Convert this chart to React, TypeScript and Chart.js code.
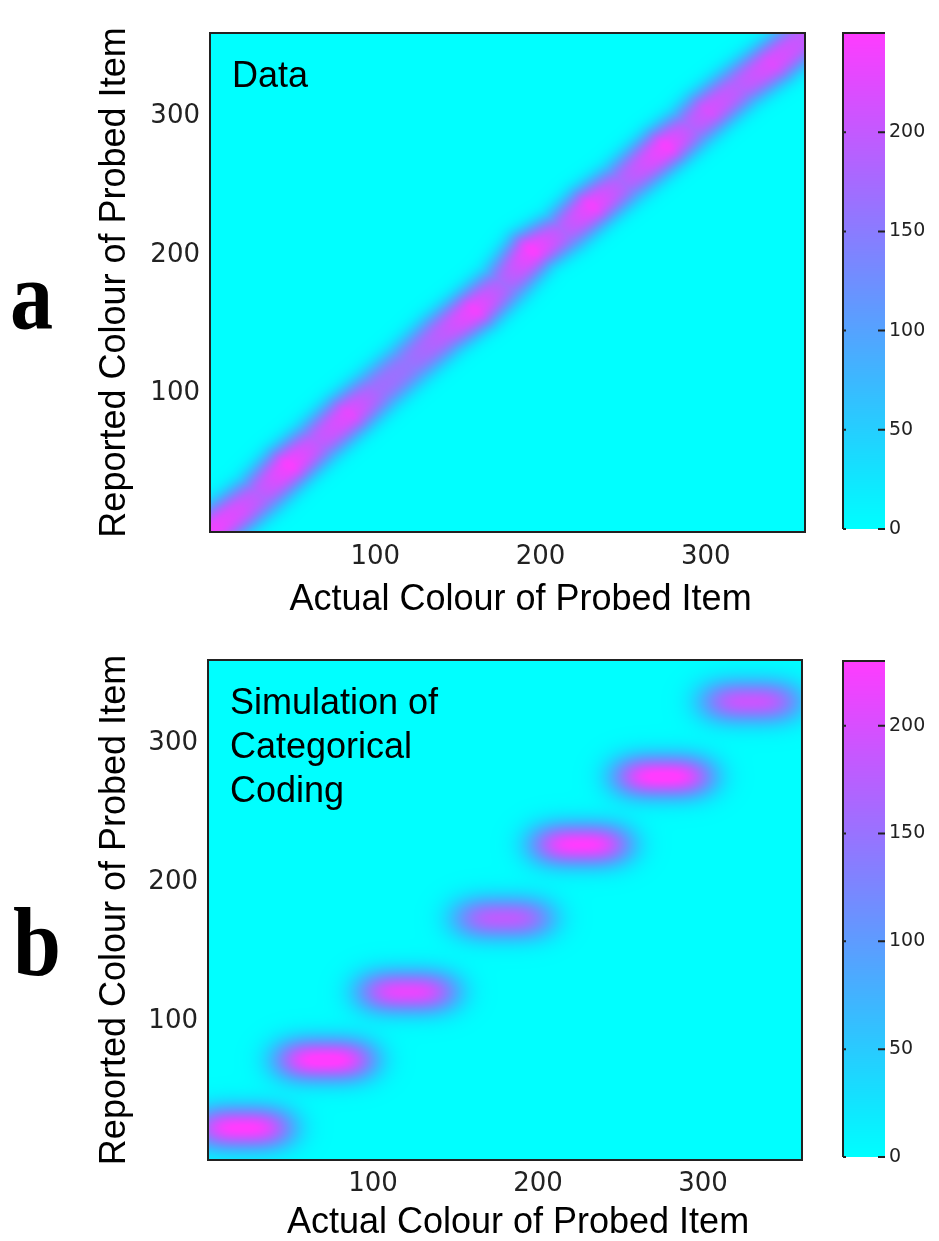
import React, { useEffect, useRef } from 'react';
import { Chart, registerables } from 'chart.js';

Chart.register(...registerables);

// ---------- data ----------
const axisMin = 0;
const axisMax = 360;
const axisTickValues = [100, 200, 300];
const colorbarTickValues = [0, 50, 100, 150, 200];

// Panel a: ridge of the "Data" heat map (actual, reported, count)
const ridgeActual = [2, 18, 30, 48, 65, 84, 102, 120, 141, 160, 178, 195, 214, 231, 250, 276, 291, 302, 320, 340, 358];
const ridgeReported = [2, 16, 27, 48, 65, 85, 103, 121, 143, 160, 179, 203, 217, 235, 252, 278, 292, 304, 321, 338, 355];
const ridgeCount = [235, 215, 190, 245, 195, 228, 170, 160, 195, 238, 175, 245, 185, 238, 180, 242, 185, 215, 190, 222, 200];
const dataColorMax = 250;

// Panel b: category blobs of the simulation (actual, reported, count)
const blobActual = [21, 71, 121, 179, 226, 276, 329];
const blobReported = [23, 72, 121, 174, 227, 276, 330];
const blobCount = [232, 238, 212, 178, 230, 236, 188];
const simColorMax = 230;

const xTitle = 'Actual Colour of Probed Item';
const yTitle = 'Reported Colour of Probed Item';
const panelALabel = ['Data'];
const panelBLabel = ['Simulation of', 'Categorical', 'Coding'];

// ---------- styles ----------
const SANS = "'Liberation Sans', Arial, sans-serif";
const TICKFONT = "'DejaVu Sans', sans-serif";
const RIDGE_S = 15;
const RIDGE_P = 2.5;
const BLOB_SX = 30;
const BLOB_SY = 15;

function cmap(t: number): [number, number, number] {
  const c = Math.max(0, Math.min(1, t));
  const r = 255 * Math.pow(c, 1.2);
  const g = 255 - 255 * c + 60 * c * c;
  return [Math.round(r), Math.round(g), 255];
}

type Pt = { x: number; y: number; count: number };

function ridgeValue(u: number, v: number, pts: Pt[]) {
  let best = 0;
  const n = pts.length;
  for (let k = 0; k < n - 1; k++) {
    const a = pts[k], b = pts[k + 1];
    const dx = b.x - a.x, dy = b.y - a.y;
    const L2 = dx * dx + dy * dy;
    let t = ((u - a.x) * dx + (v - a.y) * dy) / L2;
    if (k > 0 && t < 0) t = 0;
    if (k < n - 2 && t > 1) t = 1;
    const px = a.x + t * dx, py = a.y + t * dy;
    const d = Math.sqrt((u - px) * (u - px) + (v - py) * (v - py));
    const tc = Math.max(0, Math.min(1, t));
    const peak = a.count + tc * (b.count - a.count);
    const val = peak * Math.exp(-Math.pow(d / RIDGE_S, RIDGE_P));
    if (val > best) best = val;
  }
  return best;
}

function blobValue(u: number, v: number, pts: Pt[]) {
  let s = 0;
  for (const p of pts) {
    const ax = Math.abs(u - p.x) / BLOB_SX;
    const ay = (v - p.y) / BLOB_SY;
    s += p.count * Math.exp(-ax * ax * ax) * Math.exp(-ay * ay);
  }
  return s;
}

const heatPlugin = {
  id: 'heat',
  beforeDatasetsDraw(chart: any, _a: any, opts: any) {
    const { ctx, chartArea: ca, scales } = chart;
    const xs = scales.x, ys = scales.y;
    const w = Math.round(ca.right - ca.left);
    const h = Math.round(ca.bottom - ca.top);
    const off = document.createElement('canvas');
    off.width = w;
    off.height = h;
    const octx = off.getContext('2d')!;
    const img = octx.createImageData(w, h);
    const pts: Pt[] = chart.data.datasets[0].data;
    const us: number[] = [];
    for (let i = 0; i < w; i++) us.push(xs.getValueForPixel(ca.left + i + 0.5));
    for (let j = 0; j < h; j++) {
      const v = ys.getValueForPixel(ca.top + j + 0.5);
      for (let i = 0; i < w; i++) {
        const val = opts.kind === 'ridge' ? ridgeValue(us[i], v, pts) : blobValue(us[i], v, pts);
        const [r, g, b] = cmap(val / opts.max);
        const o = (j * w + i) * 4;
        img.data[o] = r;
        img.data[o + 1] = g;
        img.data[o + 2] = b;
        img.data[o + 3] = 255;
      }
    }
    octx.putImageData(img, 0, 0);
    ctx.save();
    ctx.drawImage(off, ca.left, ca.top, w, h);
    ctx.restore();
  },
  afterDraw(chart: any, _a: any, opts: any) {
    const { ctx, chartArea: ca } = chart;
    ctx.save();
    ctx.strokeStyle = '#222';
    ctx.lineWidth = 2;
    ctx.strokeRect(ca.left, ca.top, ca.right - ca.left, ca.bottom - ca.top);
    ctx.fillStyle = '#000';
    ctx.font = `36px ${SANS}`;
    ctx.textAlign = 'left';
    ctx.textBaseline = 'alphabetic';
    (opts.lines as string[]).forEach((s, i) => {
      ctx.fillText(s, ca.left + 22, ca.top + 54 + i * 44);
    });
    ctx.textAlign = 'center';
    ctx.fillText(opts.xTitle, (ca.left + ca.right) / 2 + 13, ca.bottom + opts.xTitleBase);
    ctx.restore();
  },
};

const colorbarPlugin = {
  id: 'cbar',
  beforeDatasetsDraw(chart: any, _a: any, opts: any) {
    const { ctx, chartArea: ca, scales } = chart;
    const ys = scales.y;
    ctx.save();
    for (let y = Math.floor(ca.top); y < ca.bottom; y++) {
      const v = ys.getValueForPixel(y + 0.5);
      const [r, g, b] = cmap(v / opts.max);
      ctx.fillStyle = `rgb(${r},${g},${b})`;
      ctx.fillRect(ca.left, y, ca.right - ca.left, 1);
    }
    ctx.strokeStyle = '#222';
    ctx.lineWidth = 2;
    ctx.beginPath();
    ctx.moveTo(ca.left, ca.bottom);
    ctx.lineTo(ca.left, ca.top);
    ctx.lineTo(ca.right, ca.top);
    ctx.stroke();
    ctx.lineWidth = 2;
    for (const t of ys.ticks) {
      const py = ys.getPixelForValue(t.value);
      ctx.beginPath();
      ctx.moveTo(ca.left, py);
      ctx.lineTo(ca.left + 3, py);
      ctx.moveTo(ca.right - 7, py);
      ctx.lineTo(ca.right, py);
      ctx.stroke();
    }
    ctx.restore();
  },
};

function heatConfig(p: {
  points: Pt[];
  kind: string;
  max: number;
  lines: string[];
  pad: { left: number; top: number; right: number; bottom: number };
  xAxisH: number;
  yAxisW: number;
  xTickPad: number;
  yTitlePad: number;
  xTitleBase: number;
}): any {
  return {
    type: 'scatter',
    data: {
      datasets: [
        {
          data: p.points,
          pointRadius: 0,
          showLine: false,
        },
      ],
    },
    plugins: [heatPlugin],
    options: {
      responsive: false,
      animation: false,
      devicePixelRatio: 1,
      events: [],
      layout: { padding: p.pad },
      plugins: {
        legend: { display: false },
        tooltip: { enabled: false },
        heat: { kind: p.kind, max: p.max, lines: p.lines, xTitle, xTitleBase: p.xTitleBase },
      },
      scales: {
        x: {
          type: 'linear',
          min: axisMin,
          max: axisMax,
          afterBuildTicks: (s: any) => {
            s.ticks = axisTickValues.map((v) => ({ value: v }));
          },
          afterFit: (s: any) => {
            s.height = p.xAxisH;
            s.paddingLeft = 0;
            s.paddingRight = 0;
          },
          grid: { display: false, drawTicks: false },
          border: { display: false },
          ticks: { padding: p.xTickPad, maxRotation: 0, color: '#222', font: { family: TICKFONT, size: 26 } },
        },
        y: {
          type: 'linear',
          min: axisMin,
          max: axisMax,
          afterBuildTicks: (s: any) => {
            s.ticks = axisTickValues.map((v) => ({ value: v }));
          },
          afterFit: (s: any) => {
            s.width = p.yAxisW;
            s.paddingTop = 0;
            s.paddingBottom = 0;
          },
          grid: { display: false, drawTicks: false },
          border: { display: false },
          ticks: { padding: 10, color: '#222', font: { family: TICKFONT, size: 26 } },
          title: {
            display: true,
            text: yTitle,
            color: '#000',
            font: { family: SANS, size: 36 },
            padding: { top: p.yTitlePad, bottom: 0 },
          },
        },
      },
    },
  };
}

function colorbarConfig(max: number, pad: any): any {
  return {
    type: 'scatter',
    data: { datasets: [{ data: [], pointRadius: 0 }] },
    plugins: [colorbarPlugin],
    options: {
      responsive: false,
      animation: false,
      devicePixelRatio: 1,
      events: [],
      layout: { padding: pad },
      plugins: { legend: { display: false }, tooltip: { enabled: false }, cbar: { max } },
      scales: {
        x: { display: false, min: 0, max: 1 },
        y: {
          position: 'right',
          min: 0,
          max,
          afterBuildTicks: (s: any) => {
            s.ticks = colorbarTickValues.map((v) => ({ value: v }));
          },
          afterFit: (s: any) => {
            s.width = 54;
            s.paddingTop = 0;
            s.paddingBottom = 0;
          },
          grid: { display: false, drawTicks: false },
          border: { display: false },
          ticks: { padding: 4, color: '#222', font: { family: TICKFONT, size: 19 } },
        },
      },
    },
  };
}

function ChartCanvas(props: { left: number; top: number; width: number; height: number; make: () => any }) {
  const ref = useRef<HTMLCanvasElement>(null);
  useEffect(() => {
    const chart = new Chart(ref.current as HTMLCanvasElement, props.make());
    return () => chart.destroy();
  }, []);
  return (
    <canvas
      ref={ref}
      width={props.width}
      height={props.height}
      style={{ position: 'absolute', left: props.left, top: props.top, width: props.width, height: props.height }}
    />
  );
}

const ridgePoints: Pt[] = ridgeActual.map((x, i) => ({ x, y: ridgeReported[i], count: ridgeCount[i] }));
const blobPoints: Pt[] = blobActual.map((x, i) => ({ x, y: blobReported[i], count: blobCount[i] }));

const letterStyle: React.CSSProperties = {
  position: 'absolute',
  fontFamily: "'Liberation Serif', 'Times New Roman', serif",
  fontWeight: 'bold',
  fontSize: 98,
  lineHeight: '98px',
  transform: 'scaleX(0.88)',
  transformOrigin: 'left top',
  color: '#000',
};

export default function App() {
  return (
    <div style={{ position: 'absolute', left: 0, top: 0, width: 939, height: 1241, background: '#fff', overflow: 'hidden' }}>
      <div style={{ ...letterStyle, left: 10, top: 246 }}>a</div>
      <div style={{ ...letterStyle, left: 13, top: 893 }}>b</div>
      <ChartCanvas
        left={80}
        top={20}
        width={740}
        height={610}
        make={() =>
          heatConfig({
            points: ridgePoints,
            kind: 'ridge',
            max: dataColorMax,
            lines: panelALabel,
            pad: { left: 0, top: 13, right: 15, bottom: 0 },
            xAxisH: 98,
            yAxisW: 130,
            xTickPad: 10,
            yTitlePad: 13,
            xTitleBase: 78,
          })
        }
      />
      <ChartCanvas
        left={835}
        top={20}
        width={104}
        height={530}
        make={() => colorbarConfig(dataColorMax, { left: 8, top: 13, right: 0, bottom: 21 })}
      />
      <ChartCanvas
        left={78}
        top={647}
        width={740}
        height={594}
        make={() =>
          heatConfig({
            points: blobPoints,
            kind: 'blob',
            max: simColorMax,
            lines: panelBLabel,
            pad: { left: 0, top: 13, right: 16, bottom: 0 },
            xAxisH: 81,
            yAxisW: 130,
            xTickPad: 9,
            yTitlePad: 15,
            xTitleBase: 73,
          })
        }
      />
      <ChartCanvas
        left={835}
        top={648}
        width={104}
        height={530}
        make={() => colorbarConfig(simColorMax, { left: 8, top: 13, right: 0, bottom: 21 })}
      />
    </div>
  );
}
